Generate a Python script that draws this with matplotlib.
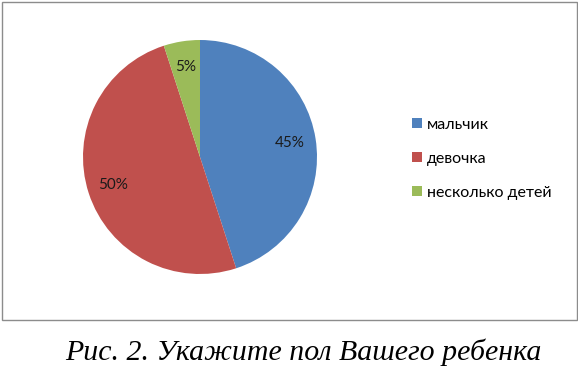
import matplotlib.pyplot as plt
from matplotlib.patches import Rectangle, Patch

labels = ['мальчик', 'девочка', 'несколько детей']
values = [45, 50, 5]
colors = ['#4F81BD', '#C0504D', '#9BBB59']
caption = 'Рис. 2. Укажите пол Вашего ребенка'

W, H = 578, 373
fig = plt.figure(figsize=(W / 100, H / 100), dpi=100)

# border around the chart area
fig.patches.append(Rectangle((1.5 / W, 1 - 319.5 / H), 575 / W, 318 / H,
                             transform=fig.transFigure, fill=False,
                             edgecolor='#8c8c8c', linewidth=1.0))

ax = fig.add_axes([83 / W, 1 - 274 / H, 234 / W, 234 / H])
wedges, texts, autotexts = ax.pie(values, colors=colors, startangle=90,
                                  counterclock=False, autopct='%1.0f%%',
                                  pctdistance=0.78,
                                  textprops={'family': 'Lato', 'fontsize': 11,
                                             'color': '#1a1a1a'})
ax.set_xlim(-1, 1)
ax.set_ylim(-1, 1)
ax.set_aspect('equal')

handles = [Patch(facecolor=c, edgecolor='none') for c in colors]
fig.legend(handles, labels, loc='center left',
           bbox_to_anchor=(398 / W, 1 - 159 / H), frameon=False,
           prop={'family': 'Lato', 'size': 11.5},
           handlelength=0.6, handleheight=0.6, handletextpad=0.3,
           labelspacing=1.25)

fig.text(0.5 + 14 / W, 1 - 352 / H, caption, ha='center', va='center',
         family=['Liberation Serif', 'DejaVu Serif'],
         style='italic', fontsize=21.5)

fig.savefig('out.png', dpi=100)
